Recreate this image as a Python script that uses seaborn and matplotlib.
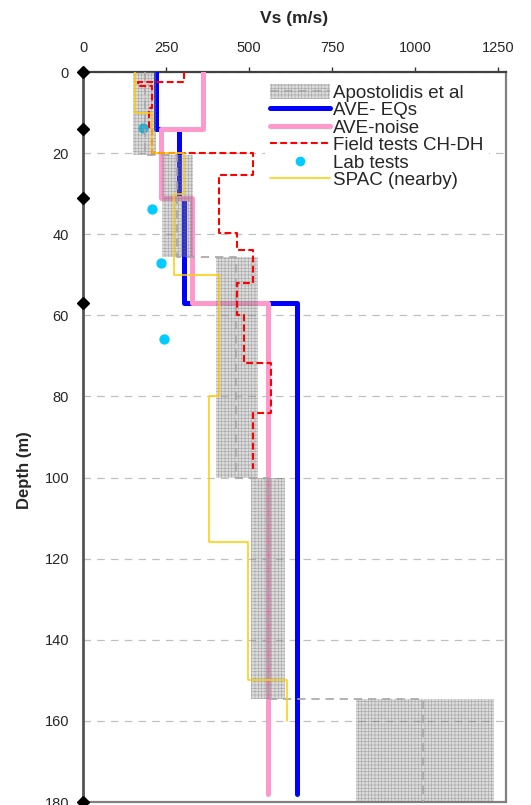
import numpy as np
import pandas as pd
import matplotlib
matplotlib.use("Agg")
import matplotlib.pyplot as plt
from matplotlib.lines import Line2D
from matplotlib.patches import Patch
import seaborn as sns

# ---- data -------------------------------------------------------------
# Apostolidis et al: layer bounds, Vs range and mean Vs
apo_bounds = [0, 20.5, 45.5, 100, 154.5, 180]
apo_min = [152, 238, 400, 506, 822]
apo_max = [220, 332, 527, 608, 1238]
apo_mean = [186, 283, 461, 557, 1024]

# AVE from earthquakes
eq_bounds = [0, 14, 31, 57, 178]
eq_vs = [219, 288, 305, 645]

# AVE from noise
noise_bounds = [0, 14, 31, 57, 178]
noise_vs = [360, 234, 327, 558]

# Field tests CH-DH
field_bounds = [0, 2.4, 3.5, 9, 13.5, 20, 25.4, 39.7, 43.9, 52.1, 59.9, 71.8, 84.1, 98]
field_vs = [305, 167, 207, 200, 209, 511, 411, 463, 511, 463, 485, 565, 513]

# Lab tests
lab_vs = [182, 208, 235, 245]
lab_depth = [13.9, 33.8, 47.0, 65.8]

# SPAC (nearby)
spac_bounds = [0, 10, 20, 30, 50, 80, 116, 150, 160]
spac_vs = [157, 207, 305, 275, 410, 378, 496, 614]

# layer interfaces marked on the depth axis
layer_depth = [0, 14, 31, 57, 180]

x_ticks = [0, 250, 500, 750, 1000, 1250]
y_ticks = list(range(0, 181, 20))


def step_profile(bounds, vs):
    """Vertical step profile: constant Vs within each layer."""
    d, v = [], []
    for top, bot, val in zip(bounds[:-1], bounds[1:], vs):
        d += [top, bot]
        v += [val, val]
    return pd.DataFrame({"Vs": v, "Depth": d})


sns.set_theme(style="white")
plt.rcParams["font.family"] = ["Liberation Sans", "DejaVu Sans"]
plt.rcParams["hatch.linewidth"] = 0.5

fig = plt.figure(figsize=(5.31, 8.05), dpi=100)
ax = fig.add_axes([83 / 531, 1 - 802 / 805, (506 - 83) / 531, (802 - 72) / 805])

blue = "#0000ff"
pink = "#ff99cc"
red = "#ff0000"
gold = "#ffcc00"
cyan = "#00ccff"
apo_grey = "#a6a6a6"
apo_face = (0.55, 0.55, 0.55, 0.3)
apo_hatch = (0.45, 0.45, 0.45, 0.45)

noise_df = step_profile(noise_bounds, noise_vs)
eq_df = step_profile(eq_bounds, eq_vs)
field_df = step_profile(field_bounds, field_vs)
spac_df = step_profile(spac_bounds, spac_vs)
apo_df = step_profile(apo_bounds, apo_mean)

sns.lineplot(data=eq_df, x="Vs", y="Depth", sort=False, estimator=None,
             color=blue, lw=3.6, ax=ax, zorder=3)
sns.lineplot(data=noise_df, x="Vs", y="Depth", sort=False, estimator=None,
             color=pink, lw=3.6, ax=ax, zorder=4)
sns.scatterplot(x=lab_vs, y=lab_depth, color=cyan, s=55, linewidth=0,
                ax=ax, zorder=5)

# Apostolidis et al: hatched Vs ranges with the dashed mean profile
for top, bot, lo, hi in zip(apo_bounds[:-1], apo_bounds[1:], apo_min, apo_max):
    ax.fill_betweenx([top, bot], lo, hi, facecolor=apo_face,
                     edgecolor=apo_hatch, hatch="+++++",
                     linewidth=0, zorder=6)
sns.lineplot(data=apo_df, x="Vs", y="Depth", sort=False, estimator=None,
             color=apo_grey, lw=1.2, ax=ax, zorder=7)
ax.lines[-1].set_linestyle((0, (5, 3.5)))

sns.lineplot(data=field_df, x="Vs", y="Depth", sort=False, estimator=None,
             color=red, lw=1.5, ax=ax, zorder=8)
ax.lines[-1].set_linestyle((0, (3.3, 1.6)))
sns.lineplot(data=spac_df, x="Vs", y="Depth", sort=False, estimator=None,
             color=gold, lw=1.1, ax=ax, zorder=9)

# layer interfaces
ax.plot(np.zeros(len(layer_depth)), layer_depth, "D", color="black", ms=6.5,
        clip_on=False, zorder=20)

# ---- axes -------------------------------------------------------------
ax.set_xlim(0, 1274)
ax.set_ylim(180, 0)
ax.set_xticks(x_ticks)
ax.set_yticks(y_ticks)
ax.xaxis.tick_top()
ax.xaxis.set_label_position("top")
ax.set_xlabel("Vs (m/s)", fontsize=12.5, fontweight="bold", labelpad=12.8)
ax.set_ylabel("Depth (m)", fontsize=12, fontweight="bold")
ax.yaxis.set_label_coords(-0.12, 0.455)
ax.tick_params(axis="x", which="major", direction="out", length=3.5, width=1,
               color="#333333", pad=8.7, labelsize=10.5, top=True, bottom=False)
ax.tick_params(axis="y", length=0, pad=10, labelsize=10.5, left=True)
ax.yaxis.grid(True, color="#c0c0c0", linestyle=(0, (6, 5)), linewidth=0.9)
ax.xaxis.grid(False)
ax.set_axisbelow(True)

for side, col, w in [("top", "#404040", 1.6), ("left", "#555555", 2.0),
                     ("right", "#808080", 1.6), ("bottom", "#808080", 1.6)]:
    ax.spines[side].set_visible(True)
    ax.spines[side].set_color(col)
    ax.spines[side].set_linewidth(w)

# ---- legend -----------------------------------------------------------
apo_handle = (Patch(facecolor=apo_face, edgecolor=apo_hatch, hatch="+++++", linewidth=0),
              Line2D([], [], color=apo_grey, lw=1.2, linestyle=(0, (5, 3.5))))
handles = [
    apo_handle,
    Line2D([], [], color=blue, lw=3.6),
    Line2D([], [], color=pink, lw=3.6),
    Line2D([], [], color=red, lw=1.5, linestyle=(0, (3.3, 1.6))),
    Line2D([], [], color=cyan, marker="o", ms=7, linestyle="none", markeredgewidth=0),
    Line2D([], [], color=gold, lw=1.1),
]
labels = ["Apostolidis et al", "AVE- EQs", "AVE-noise", "Field tests CH-DH",
          "Lab tests", "SPAC (nearby)"]
leg = ax.legend(handles, labels, loc="upper left",
                bbox_to_anchor=(265 / 531, 1 - 79 / 805),
                bbox_transform=fig.transFigure, fontsize=13.5, frameon=True,
                framealpha=1, edgecolor="none", facecolor="white", fancybox=False,
                handlelength=3.2, handleheight=0.9, handletextpad=0.2,
                labelspacing=-0.04, borderpad=0.25, borderaxespad=0)
leg.set_zorder(30)

fig.savefig("out.png", dpi=100)
